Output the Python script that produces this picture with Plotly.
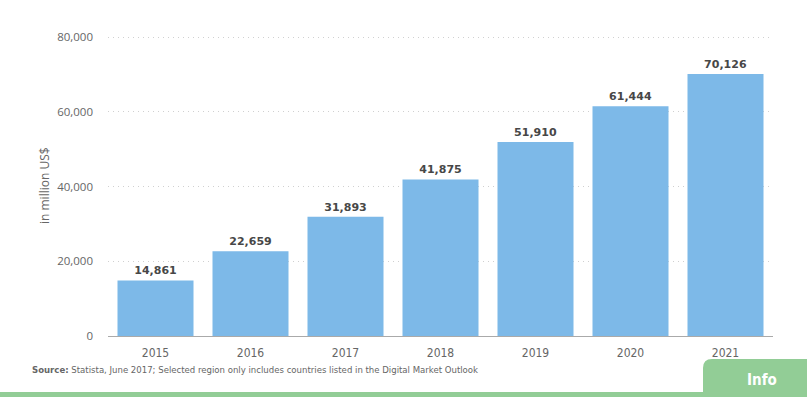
import plotly.graph_objects as go

years = ["2015", "2016", "2017", "2018", "2019", "2020", "2021"]
revenue = [14861, 22659, 31893, 41875, 51910, 61444, 70126]
y_ticks = [0, 20000, 40000, 60000, 80000]
y_tick_labels = ["0", "20,000", "40,000", "60,000", "80,000"]

W, H = 807, 397
L, R, T, B = 108, 773, 34, 336
pw, ph = R - L, B - T
Y0PX, Y80PX = 336, 37
ymax = 80000 * (B - T) / (Y0PX - Y80PX)

COND = "DejaVu Sans Condensed, Liberation Sans Narrow, Roboto, sans-serif"

def px(x):
    return (x - L) / pw

def py(y):
    return (B - y) / ph

fig = go.Figure()
fig.add_trace(go.Bar(
    x=years, y=revenue,
    marker=dict(color="#7db9e8", line=dict(width=0)),
    width=0.8,
    text=[f"{v:,}" for v in revenue],
    textposition="outside",
    textfont=dict(family="DejaVu Sans", size=11, color="#474747"),
    texttemplate="<b>%{text}</b>",
    cliponaxis=False,
    hoverinfo="skip",
))

# Info tab and bottom bar
r = 9
tx0, ty0 = 703, 359
path = (f"M {px(tx0)},{py(397)} L {px(tx0)},{py(ty0 + r)} "
        f"Q {px(tx0)},{py(ty0)} {px(tx0 + r)},{py(ty0)} "
        f"L {px(W)},{py(ty0)} L {px(W)},{py(397)} Z")
shapes = [
    dict(type="path", xref="paper", yref="paper", path=path,
         fillcolor="#92cd96", line=dict(width=0), layer="above"),
    dict(type="rect", xref="paper", yref="paper", x0=px(0), x1=px(W),
         y0=py(397), y1=py(392), fillcolor="#92cd96", line=dict(width=0)),
]

annotations = [
    dict(xref="paper", yref="paper", x=px(30), y=py(369), xanchor="left", yanchor="middle",
         text="<b>Source:</b> Statista, June 2017; Selected region only includes countries listed in the Digital Market Outlook",
         showarrow=False, font=dict(family=COND, size=9.5, color="#666")),
    dict(xref="paper", yref="paper", x=px(762), y=py(380), xanchor="center", yanchor="middle",
         text="<b>Info</b>", showarrow=False,
         font=dict(family=COND, size=15, color="white")),
    dict(xref="paper", yref="paper", x=px(44), y=py(186), xanchor="center", yanchor="middle",
         text="in million US$", textangle=-90, showarrow=False,
         font=dict(family="Open Sans", size=12, color="#666")),
]

fig.update_layout(
    width=W, height=H,
    margin=dict(l=L, r=W - R, t=T, b=H - B, pad=0),
    paper_bgcolor="white", plot_bgcolor="white",
    showlegend=False,
    bargap=0.2,
    shapes=shapes,
    annotations=annotations,
    xaxis=dict(
        type="category", showgrid=False, showline=True, linecolor="#aaa", linewidth=1,
        ticks="", tickfont=dict(family=COND, size=12, color="#666"),
        ticklabelstandoff=6, fixedrange=True,
    ),
    yaxis=dict(
        range=[0, ymax], tickvals=y_ticks, ticktext=y_tick_labels,
        showgrid=True, gridcolor="#d0d0d0", griddash="1px,4px", gridwidth=1,
        zeroline=False, showline=False, ticks="",
        tickfont=dict(family="Open Sans", size=11.5, color="#666"),
        ticklabelstandoff=14, fixedrange=True,
    ),
)

fig.write_html("out.html", config={"displayModeBar": False},
               post_script="document.body.style.margin='0';")
